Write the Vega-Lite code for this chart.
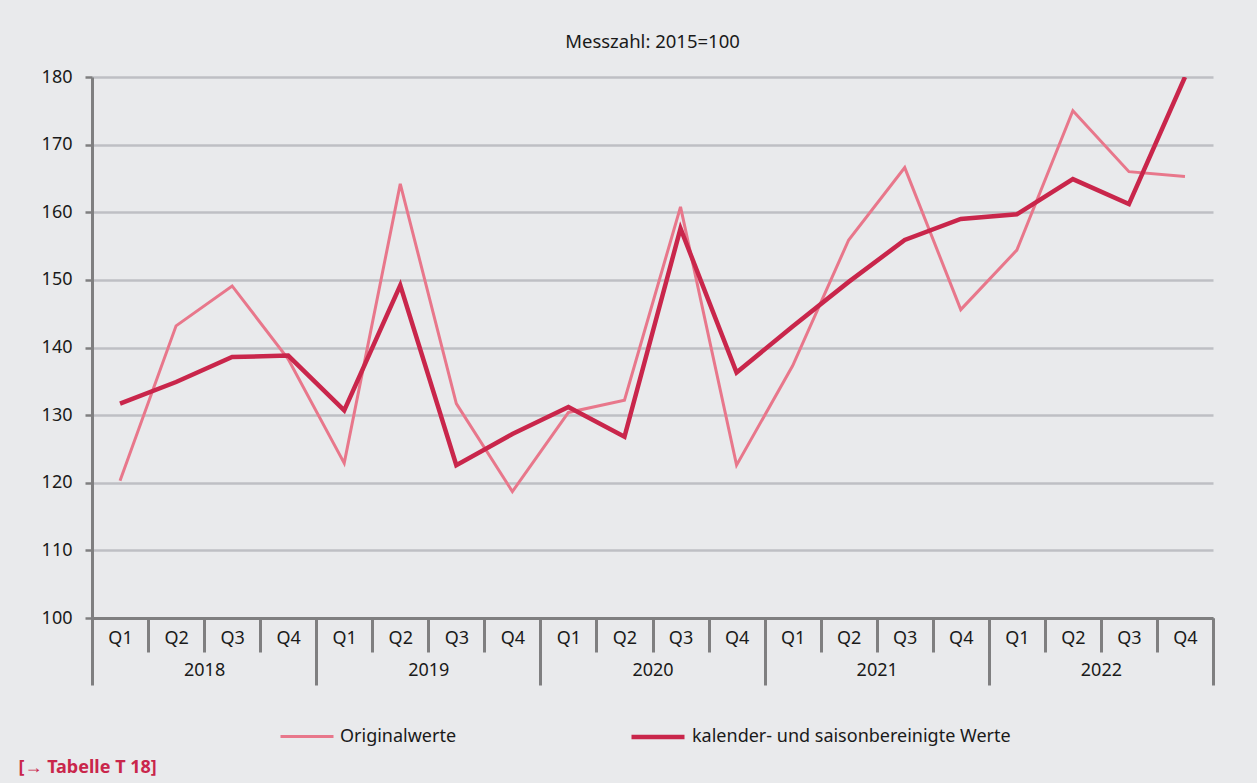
{
  "$schema": "https://vega.github.io/schema/vega-lite/v6.json",
  "width": 1121,
  "height": 541,
  "autosize": {"type": "none"},
  "padding": {"left": 92, "top": 77, "right": 44, "bottom": 165},
  "background": "#e9eaec",
  "title": {"text": "Messzahl: 2015=100", "fontSize": 18.5, "fontWeight": "normal", "font": "Noto Sans", "color": "#1a1a1a", "offset": 17, "anchor": "middle"},
  "datasets": {
    "series": [
      {"q": "2018 Q1", "year": "2018", "series": "Originalwerte", "value": 120.3},
      {"q": "2018 Q2", "year": "2018", "series": "Originalwerte", "value": 143.2},
      {"q": "2018 Q3", "year": "2018", "series": "Originalwerte", "value": 149.1},
      {"q": "2018 Q4", "year": "2018", "series": "Originalwerte", "value": 138.3},
      {"q": "2019 Q1", "year": "2019", "series": "Originalwerte", "value": 122.9},
      {"q": "2019 Q2", "year": "2019", "series": "Originalwerte", "value": 164.2},
      {"q": "2019 Q3", "year": "2019", "series": "Originalwerte", "value": 131.7},
      {"q": "2019 Q4", "year": "2019", "series": "Originalwerte", "value": 118.7},
      {"q": "2020 Q1", "year": "2020", "series": "Originalwerte", "value": 130.4},
      {"q": "2020 Q2", "year": "2020", "series": "Originalwerte", "value": 132.2},
      {"q": "2020 Q3", "year": "2020", "series": "Originalwerte", "value": 160.8},
      {"q": "2020 Q4", "year": "2020", "series": "Originalwerte", "value": 122.6},
      {"q": "2021 Q1", "year": "2021", "series": "Originalwerte", "value": 137.3},
      {"q": "2021 Q2", "year": "2021", "series": "Originalwerte", "value": 155.9},
      {"q": "2021 Q3", "year": "2021", "series": "Originalwerte", "value": 166.6},
      {"q": "2021 Q4", "year": "2021", "series": "Originalwerte", "value": 145.6},
      {"q": "2022 Q1", "year": "2022", "series": "Originalwerte", "value": 154.4},
      {"q": "2022 Q2", "year": "2022", "series": "Originalwerte", "value": 175.0},
      {"q": "2022 Q3", "year": "2022", "series": "Originalwerte", "value": 166.0},
      {"q": "2022 Q4", "year": "2022", "series": "Originalwerte", "value": 165.3},
      {"q": "2018 Q1", "year": "2018", "series": "kalender- und saisonbereinigte Werte", "value": 131.7},
      {"q": "2018 Q2", "year": "2018", "series": "kalender- und saisonbereinigte Werte", "value": 134.9},
      {"q": "2018 Q3", "year": "2018", "series": "kalender- und saisonbereinigte Werte", "value": 138.6},
      {"q": "2018 Q4", "year": "2018", "series": "kalender- und saisonbereinigte Werte", "value": 138.8},
      {"q": "2019 Q1", "year": "2019", "series": "kalender- und saisonbereinigte Werte", "value": 130.7},
      {"q": "2019 Q2", "year": "2019", "series": "kalender- und saisonbereinigte Werte", "value": 149.2},
      {"q": "2019 Q3", "year": "2019", "series": "kalender- und saisonbereinigte Werte", "value": 122.6},
      {"q": "2019 Q4", "year": "2019", "series": "kalender- und saisonbereinigte Werte", "value": 127.2},
      {"q": "2020 Q1", "year": "2020", "series": "kalender- und saisonbereinigte Werte", "value": 131.2},
      {"q": "2020 Q2", "year": "2020", "series": "kalender- und saisonbereinigte Werte", "value": 126.8},
      {"q": "2020 Q3", "year": "2020", "series": "kalender- und saisonbereinigte Werte", "value": 157.6},
      {"q": "2020 Q4", "year": "2020", "series": "kalender- und saisonbereinigte Werte", "value": 136.3},
      {"q": "2021 Q1", "year": "2021", "series": "kalender- und saisonbereinigte Werte", "value": 143.1},
      {"q": "2021 Q2", "year": "2021", "series": "kalender- und saisonbereinigte Werte", "value": 149.7},
      {"q": "2021 Q3", "year": "2021", "series": "kalender- und saisonbereinigte Werte", "value": 155.9},
      {"q": "2021 Q4", "year": "2021", "series": "kalender- und saisonbereinigte Werte", "value": 159.0},
      {"q": "2022 Q1", "year": "2022", "series": "kalender- und saisonbereinigte Werte", "value": 159.7},
      {"q": "2022 Q2", "year": "2022", "series": "kalender- und saisonbereinigte Werte", "value": 164.9},
      {"q": "2022 Q3", "year": "2022", "series": "kalender- und saisonbereinigte Werte", "value": 161.2},
      {"q": "2022 Q4", "year": "2022", "series": "kalender- und saisonbereinigte Werte", "value": 180.0}
    ]
  },
  "data": {"name": "series"},
  "layer": [
    {
      "mark": {"type": "bar", "opacity": 0},
      "encoding": {
        "x": {
          "field": "year", "type": "nominal", "sort": null,
          "scale": {"type": "band", "paddingInner": 0, "paddingOuter": 0},
          "axis": {
            "orient": "bottom", "domain": false, "grid": false,
            "tickBand": "extent", "tickSize": 67, "tickWidth": 3, "tickColor": "#7f7f80",
            "labelPadding": -24, "labelFontSize": 18, "labelColor": "#1a1a1a", "labelFont": "Noto Sans", "labelAngle": 0,
            "title": "[→ Tabelle T 18]", "titleFont": "Noto Sans", "titleFontSize": 18, "titleFontWeight": "bold", "titleColor": "#c9264b",
            "titleX": -74, "titleY": 149, "titleAlign": "left", "titleBaseline": "middle", "titleAngle": 0
          }
        }
      }
    },
    {
      "mark": {"type": "line", "clip": true},
      "encoding": {
        "x": {
          "field": "q", "type": "nominal", "sort": null, "bandPosition": 0.5,
          "scale": {"type": "band", "paddingInner": 0, "paddingOuter": 0},
          "axis": {
            "orient": "bottom", "domain": true, "domainColor": "#7f7f80", "domainWidth": 3, "grid": false,
            "tickBand": "extent", "tickSize": 34, "tickWidth": 3, "tickColor": "#7f7f80",
            "labelPadding": -23, "labelFontSize": 18, "labelColor": "#1a1a1a", "labelFont": "Noto Sans", "labelAngle": 0,
            "labelExpr": "split(datum.label, ' ')[1]", "title": null
          }
        },
        "y": {
          "field": "value", "type": "quantitative",
          "scale": {"domain": [100, 180], "nice": false, "zero": false},
          "axis": {
            "values": [100, 110, 120, 130, 140, 150, 160, 170, 180],
            "domain": true, "domainColor": "#7f7f80", "domainWidth": 3,
            "grid": true, "gridColor": "#bebfc4", "gridWidth": 2.5,
            "ticks": true, "tickSize": 7, "tickWidth": 2.5, "tickColor": "#7f7f80",
            "labelPadding": 13, "labelFontSize": 18, "labelColor": "#1a1a1a", "labelFont": "Noto Sans",
            "title": null
          }
        },
        "color": {
          "field": "series", "type": "nominal",
          "scale": {"domain": ["Originalwerte", "kalender- und saisonbereinigte Werte"], "range": ["#e8778b", "#c9264b"]},
          "legend": {
            "orient": "none", "legendX": 187, "legendY": 631, "direction": "horizontal",
            "title": null, "symbolType": "stroke", "symbolSize": 2809, "symbolStrokeWidth": 4,
            "labelFontSize": 18, "labelFont": "Noto Sans", "labelColor": "#1a1a1a", "labelOffset": 5,
            "columnPadding": 165, "labelLimit": 400
          }
        },
        "strokeWidth": {
          "field": "series", "type": "nominal",
          "scale": {"domain": ["Originalwerte", "kalender- und saisonbereinigte Werte"], "range": [3, 4.5]},
          "legend": null
        }
      }
    }
  ],
  "resolve": {"scale": {"x": "independent"}, "axis": {"x": "independent"}},
  "config": {"view": {"stroke": null}, "font": "Noto Sans"}
}
